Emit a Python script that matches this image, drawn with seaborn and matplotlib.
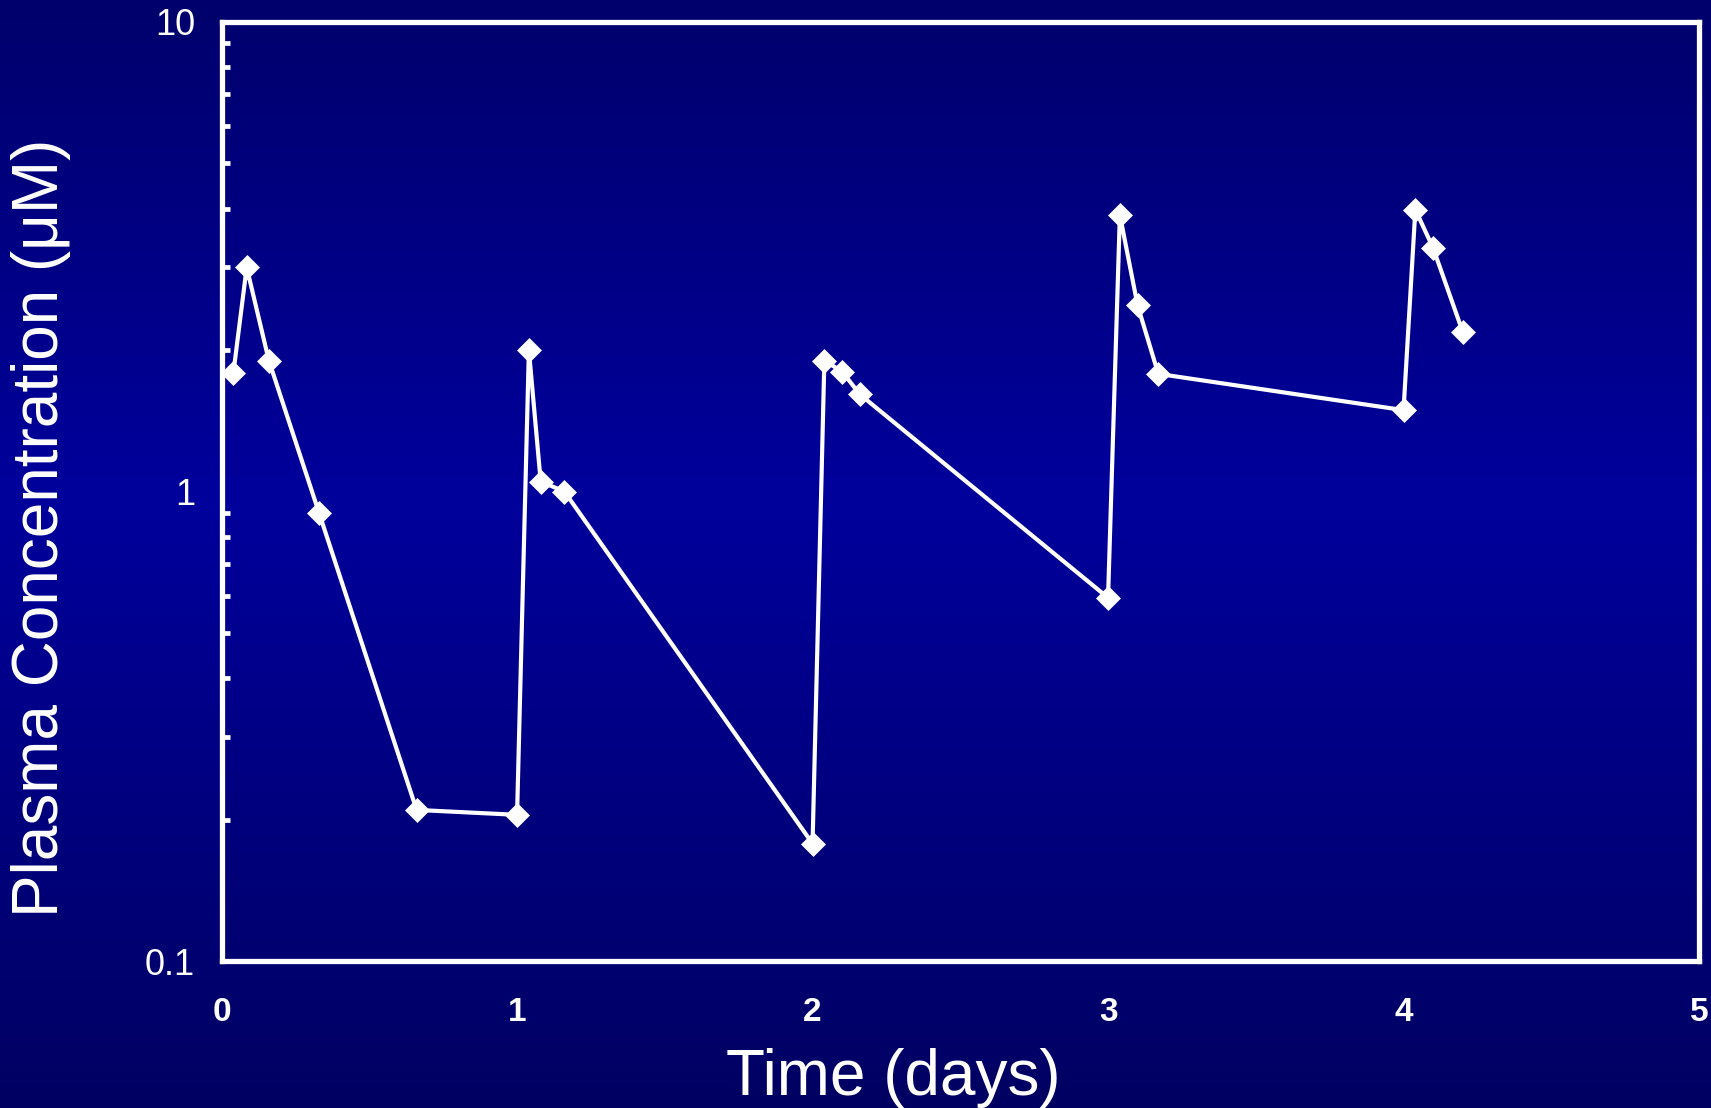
import numpy as np
import pandas as pd
import matplotlib
matplotlib.use("Agg")
import matplotlib.pyplot as plt
import seaborn as sns
from matplotlib.colors import LinearSegmentedColormap
from matplotlib.ticker import LogLocator, FixedLocator, NullFormatter, FixedFormatter

# ─── Data ────────────────────────────────────────────────────────────────────

time_days = [0.04, 0.085, 0.16, 0.33, 0.66, 1.0, 1.04, 1.08, 1.16,
             2.0, 2.04, 2.1, 2.16, 3.0, 3.04, 3.1, 3.17,
             4.0, 4.04, 4.1, 4.2]
conc_um = [1.79, 3.0, 1.9, 0.9, 0.21, 0.205, 2.0, 1.05, 1.0,
           0.178, 1.9, 1.8, 1.61, 0.594, 3.88, 2.49, 1.78,
           1.49, 3.98, 3.3, 2.19]

x_ticks = [0, 1, 2, 3, 4, 5]
y_ticks = [0.1, 1, 10]
y_tick_labels = ["0.1", "1", "10"]


def main():
    sns.set_style("white")
    plt.rcParams["font.family"] = ["Liberation Sans", "DejaVu Sans"]

    fig = plt.figure(figsize=(17.11, 11.08), dpi=100)

    # background: vertical navy gradient, brightest in the middle
    bg = fig.add_axes([0, 0, 1, 1], zorder=-10)
    grad = np.linspace(0, 1, 256).reshape(-1, 1)
    cmap = LinearSegmentedColormap.from_list(
        "bg", [(0.0, "#00006c"), (0.45, "#00009c"), (1.0, "#000062")])
    bg.imshow(grad, aspect="auto", cmap=cmap, extent=[0, 1, 0, 1], origin="upper")
    bg.axis("off")

    ax = fig.add_axes([0.1295, 0.1324, 0.8635, 0.848])
    ax.set_facecolor("none")

    df = pd.DataFrame({"time": time_days, "conc": conc_um})
    sns.lineplot(data=df, x="time", y="conc", ax=ax, color="white",
                 linewidth=3.0, marker="D", markersize=12,
                 markeredgecolor="white", markeredgewidth=0.5,
                 sort=False, estimator=None)

    ax.set_yscale("log")
    ax.set_xlim(0, 5)
    ax.set_ylim(0.1, 10)

    for s in ax.spines.values():
        s.set_color("white")
        s.set_linewidth(3.8)

    ax.xaxis.set_major_locator(FixedLocator(x_ticks))
    ax.yaxis.set_major_locator(FixedLocator(y_ticks))
    ax.yaxis.set_major_formatter(FixedFormatter(y_tick_labels))
    ax.yaxis.set_minor_locator(LogLocator(base=10, subs=np.arange(2, 10)))
    ax.yaxis.set_minor_formatter(NullFormatter())

    ax.tick_params(axis="x", which="major", direction="out", length=9, width=3.4,
                   color="white", labelcolor="white", labelsize=24, pad=17)
    ax.tick_params(axis="y", which="major", direction="inout", length=14, width=3.4,
                   color="white", labelcolor="white", labelsize=26, pad=12)
    ax.tick_params(axis="y", which="minor", direction="in", length=6, width=3.4,
                   color="white", left=True)
    for lbl in ax.get_xticklabels():
        lbl.set_fontweight("bold")

    ax.set_xlabel("")
    ax.set_ylabel("")
    fig.text(0.522, 0.027, "Time (days)", color="white", fontsize=46,
             ha="center", va="center")
    fig.text(0.024, 0.524, "Plasma Concentration (μM)", color="white",
             fontsize=46, rotation=90, ha="center", va="center")

    fig.savefig("out.png", dpi=100)
    plt.close(fig)


if __name__ == "__main__":
    main()
